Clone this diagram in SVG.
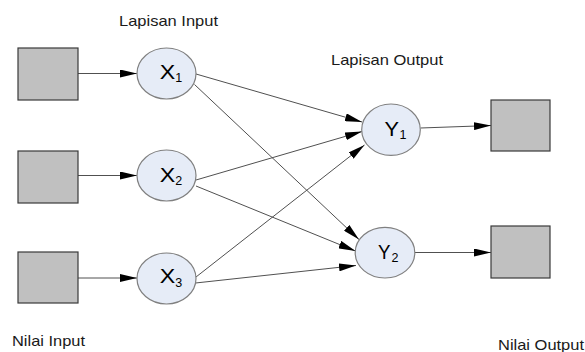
<svg xmlns="http://www.w3.org/2000/svg" width="585" height="352" viewBox="0 0 585 352">
  <defs>
    <marker id="arrow" viewBox="0 0 17 8" refX="17" refY="4" markerWidth="17" markerHeight="8" orient="auto" markerUnits="userSpaceOnUse">
      <path d="M0,0 L17,4 L0,8 z" fill="#000"/>
    </marker>
  </defs>
  <style>
    .box { fill: #c0c0c0; stroke: #3a3a3a; stroke-width: 1.2; }
    .neuron { fill: #e6ecf7; stroke: #808080; stroke-width: 1.2; }
    .edge { stroke: #505050; stroke-width: 1; fill: none; marker-end: url(#arrow); }
    .lbl { font-family: "Liberation Sans", Arial, sans-serif; font-size: 15px; fill: #1a1a1a; }
    .sym { font-family: "Liberation Sans", Arial, sans-serif; font-size: 19.5px; fill: #000; }
    .sub { font-family: "Liberation Sans", Arial, sans-serif; font-size: 12.5px; fill: #000; }
  </style>
  <rect width="585" height="352" fill="#fff"/>

  <!-- layer captions -->
  <text class="lbl" x="119" y="26" textLength="99" lengthAdjust="spacingAndGlyphs">Lapisan Input</text>
  <text class="lbl" x="331" y="65" textLength="112" lengthAdjust="spacingAndGlyphs">Lapisan Output</text>
  <text class="lbl" x="12" y="346" textLength="73" lengthAdjust="spacingAndGlyphs">Nilai Input</text>
  <text class="lbl" x="498" y="350" textLength="86" lengthAdjust="spacingAndGlyphs">Nilai Output</text>

  <!-- connections -->
  <g id="connectors">
    <line class="edge" x1="78" y1="73.5" x2="137" y2="73.5"/>
    <line class="edge" x1="78" y1="175.5" x2="137" y2="175.5"/>
    <line class="edge" x1="78" y1="278" x2="137" y2="278"/>
    <line class="edge" x1="196" y1="74" x2="362" y2="122"/>
    <line class="edge" x1="194.5" y1="84.5" x2="359" y2="239.5"/>
    <line class="edge" x1="196" y1="180" x2="362" y2="131.5"/>
    <line class="edge" x1="196" y1="186" x2="355.5" y2="251"/>
    <line class="edge" x1="196" y1="277" x2="364.5" y2="145"/>
    <line class="edge" x1="195.5" y1="283" x2="356" y2="265.5"/>
    <line class="edge" x1="420.5" y1="128" x2="491" y2="125.5"/>
    <line class="edge" x1="415" y1="252.5" x2="491" y2="252.5"/>
  </g>

  <!-- input values -->
  <g id="in1"><rect class="box" x="18" y="48" width="60" height="52"/></g>
  <g id="in2"><rect class="box" x="18" y="151" width="60" height="52"/></g>
  <g id="in3"><rect class="box" x="18" y="252" width="60" height="51"/></g>

  <!-- input layer -->
  <g id="x1">
    <ellipse class="neuron" cx="166.5" cy="73.5" rx="29.5" ry="25.5"/>
    <text class="sym" x="159.8" y="79" textLength="15.5" lengthAdjust="spacingAndGlyphs">X</text>
    <text class="sub" x="175.3" y="82.3">1</text>
  </g>
  <g id="x2">
    <ellipse class="neuron" cx="166.5" cy="175.5" rx="29.5" ry="25.5"/>
    <text class="sym" x="159.8" y="182.3" textLength="15.5" lengthAdjust="spacingAndGlyphs">X</text>
    <text class="sub" x="175.3" y="185.3">2</text>
  </g>
  <g id="x3">
    <ellipse class="neuron" cx="166.5" cy="278.5" rx="29.5" ry="25.5"/>
    <text class="sym" x="159.8" y="283.3" textLength="15.5" lengthAdjust="spacingAndGlyphs">X</text>
    <text class="sub" x="175.3" y="287.3">3</text>
  </g>

  <!-- output layer -->
  <g id="y1">
    <ellipse class="neuron" cx="391" cy="129.7" rx="29.3" ry="25.7"/>
    <text class="sym" x="384.5" y="136" textLength="14.5" lengthAdjust="spacingAndGlyphs">Y</text>
    <text class="sub" x="399.5" y="139">1</text>
  </g>
  <g id="y2">
    <ellipse class="neuron" cx="385" cy="252.7" rx="29.8" ry="25.3"/>
    <text class="sym" x="378" y="259.3" textLength="12.5" lengthAdjust="spacingAndGlyphs">Y</text>
    <text class="sub" x="391.5" y="262">2</text>
  </g>

  <!-- output values -->
  <g id="out1"><rect class="box" x="491" y="100" width="59" height="51"/></g>
  <g id="out2"><rect class="box" x="491" y="226" width="59" height="52"/></g>
</svg>
